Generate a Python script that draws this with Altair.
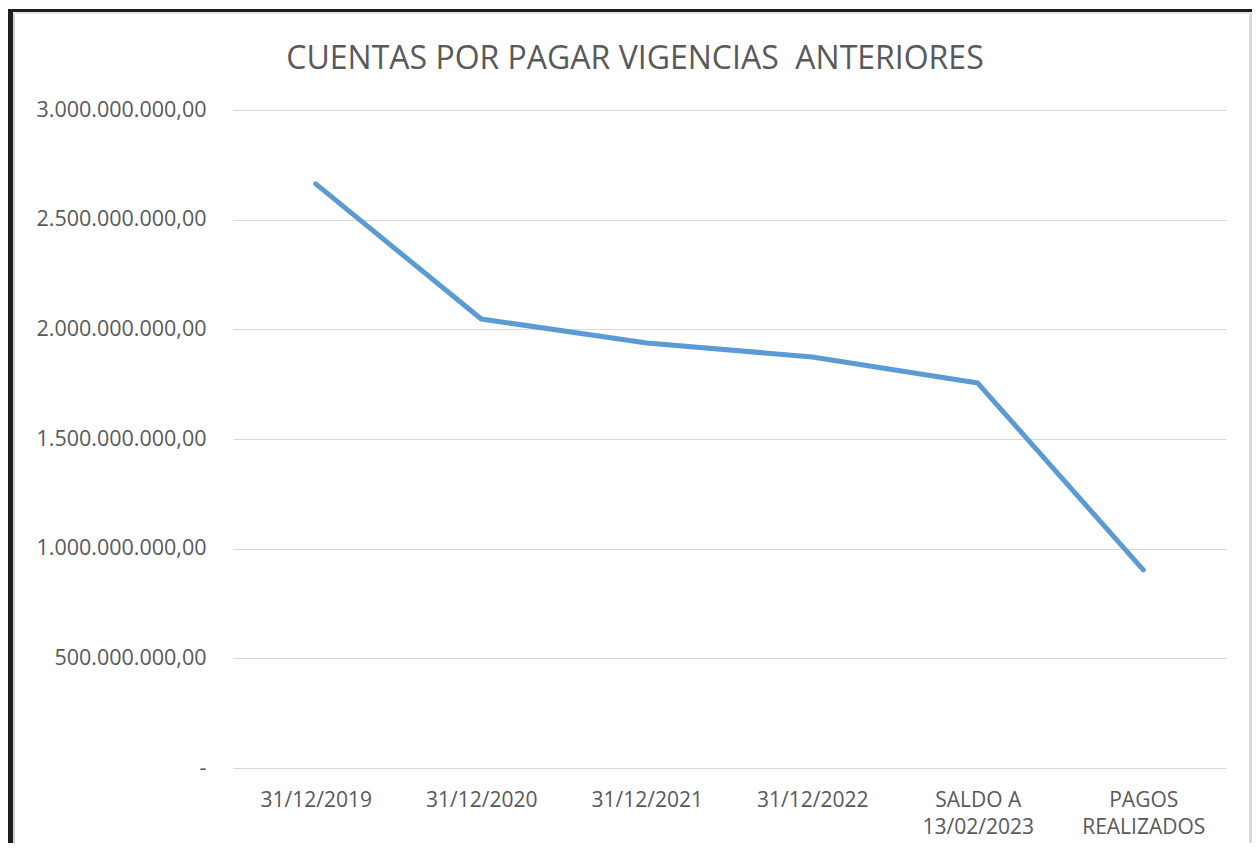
import altair as alt
import pandas as pd

categories = ["31/12/2019", "31/12/2020", "31/12/2021", "31/12/2022",
              "SALDO A|13/02/2023", "PAGOS|REALIZADOS"]
values = [2663000000, 2047000000, 1938000000, 1874000000, 1755000000, 903000000]
y_ticks = [0, 500000000, 1000000000, 1500000000, 2000000000, 2500000000, 3000000000]
title_text = "CUENTAS POR PAGAR VIGENCIAS\u00a0 ANTERIORES"

df = pd.DataFrame({"cat": categories, "val": values})
one = pd.DataFrame({"k": [0]})

FONT = "Open Sans"
GRAY = "#595959"

line = alt.Chart(df).mark_line(
    color="#5B9BD5", strokeWidth=5, strokeCap="round", strokeJoin="round"
).encode(
    x=alt.X("cat:N", sort=categories, scale=alt.Scale(padding=0.5),
            axis=alt.Axis(title=None, labelAngle=0, ticks=False, domain=True,
                          domainColor="#D9D9D9", domainWidth=1,
                          labelExpr="split(datum.label, '|')",
                          labelFont=FONT, labelFontSize=21, labelColor=GRAY,
                          labelPadding=21, labelLineHeight=27, grid=False)),
    y=alt.Y("val:Q", scale=alt.Scale(domain=[0, 3000000000], nice=False),
            axis=alt.Axis(title=None, values=y_ticks, format=",.2f",
                          labelExpr="datum.value == 0 ? '-' : datum.label",
                          ticks=False, domain=False, grid=True,
                          gridColor="#D9D9D9", gridWidth=1,
                          labelFont=FONT, labelFontSize=21.5, labelColor=GRAY,
                          labelPadding=27)),
)

def frame(x1, x2, y1, y2, color):
    return alt.Chart(one).mark_rect(color=color).encode(
        x=alt.value(x1), x2=alt.value(x2), y=alt.value(y1), y2=alt.value(y2))

title = alt.Chart(one).mark_text(
    text=title_text, font=FONT, fontSize=32, color=GRAY,
    align="center", baseline="alphabetic"
).encode(x=alt.value(402), y=alt.value(-41))

layers = [
    frame(-220, -218, -98, 733, "#D0D0D0"),
    frame(-220, 1019, -98, -96, "#E6E6E6"),
    frame(1016, 1019, -96, 733, "#D9D9D9"),
    frame(-225, -220, -101, 733, "#1F1F1F"),
    frame(-225, 1019, -101, -98, "#1F1F1F"),
    title,
    line,
]

chart = alt.layer(*layers).properties(
    width=993, height=658,
    autosize=alt.AutoSizeParams(type="none"),
    padding={"left": 225, "top": 102, "right": 26, "bottom": 75},
).configure(
    locale={"number": {"decimal": ",", "thousands": ".", "grouping": [3],
                       "currency": ["", ""]}}
).configure_view(stroke=None)

chart.save("out.html", embed_options={"renderer": "svg", "actions": False})
